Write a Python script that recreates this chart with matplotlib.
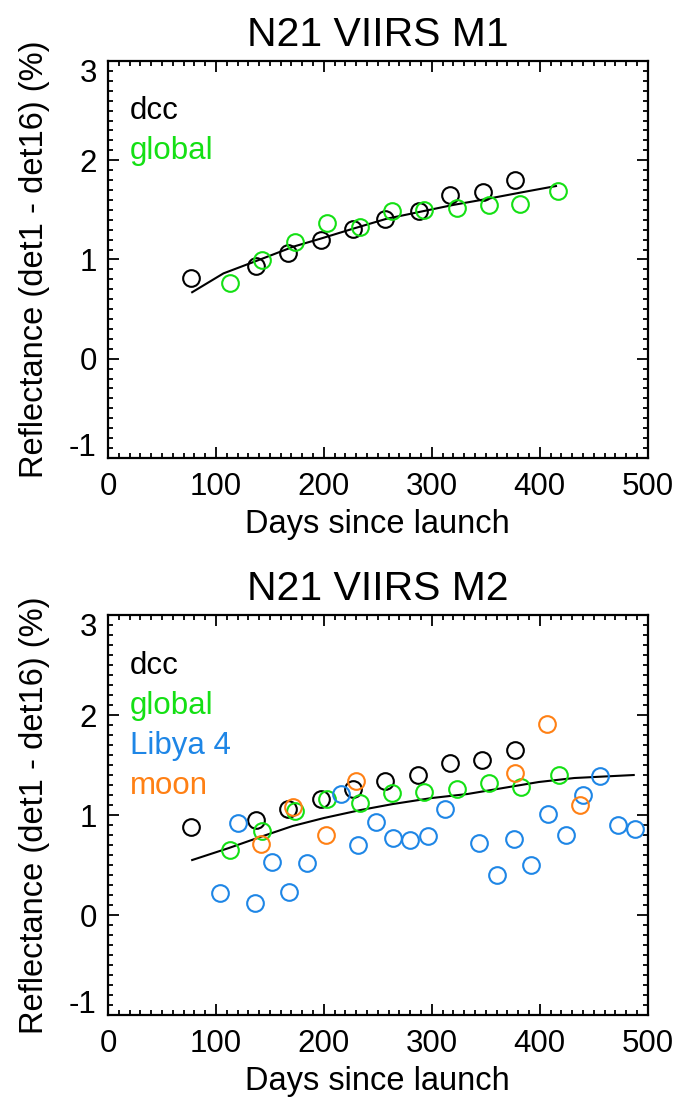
import matplotlib
matplotlib.use("Agg")
import matplotlib.pyplot as plt
from matplotlib.ticker import MultipleLocator
from matplotlib.transforms import ScaledTranslation

plt.rcParams["font.family"] = ["Liberation Sans", "DejaVu Sans"]

# ---- M1 ----
m1_dcc_days = [77, 137, 167, 197, 227, 257, 288, 317, 347, 377]
m1_dcc_vals = [0.81, 0.93, 1.07, 1.20, 1.31, 1.41, 1.49, 1.65, 1.68, 1.80]
m1_glb_days = [113, 143, 173, 203, 233, 263, 293, 323, 353, 382, 417]
m1_glb_vals = [0.76, 0.99, 1.18, 1.37, 1.33, 1.49, 1.50, 1.52, 1.55, 1.56, 1.69]
m1_fit_days = [78, 107, 141, 172, 197, 227, 258, 289, 320, 351, 385, 415]
m1_fit_vals = [0.67, 0.86, 1.00, 1.13, 1.21, 1.31, 1.41, 1.48, 1.55, 1.61, 1.68, 1.74]

# ---- M2 ----
m2_dcc_days = [77, 137, 167, 197, 227, 257, 287, 317, 346, 377]
m2_dcc_vals = [0.88, 0.95, 1.06, 1.16, 1.26, 1.34, 1.40, 1.52, 1.55, 1.65]
m2_glb_days = [113, 143, 173, 203, 233, 263, 293, 323, 353, 383, 418]
m2_glb_vals = [0.65, 0.84, 1.04, 1.16, 1.12, 1.22, 1.23, 1.26, 1.32, 1.28, 1.40]
m2_lib_days = [104, 120, 136, 152, 168, 184, 216, 232, 248, 264, 280, 296,
               312, 344, 360, 376, 392, 408, 424, 440, 456, 472, 488]
m2_lib_vals = [0.22, 0.92, 0.12, 0.53, 0.23, 0.52, 1.21, 0.70, 0.93, 0.77,
               0.75, 0.79, 1.06, 0.72, 0.40, 0.76, 0.50, 1.01, 0.80, 1.20,
               1.39, 0.90, 0.86]
m2_moon_days = [142, 171, 202, 230, 377, 407, 437]
m2_moon_vals = [0.71, 1.08, 0.80, 1.34, 1.42, 1.91, 1.10]
m2_fit_days = [78, 112, 141, 171, 200, 234, 264, 300, 333, 366, 399, 432, 487]
m2_fit_vals = [0.55, 0.67, 0.78, 0.89, 0.97, 1.05, 1.11, 1.17, 1.21, 1.27,
               1.33, 1.37, 1.40]

GREEN = "#14e014"
BLUE = "#1e86e6"
ORANGE = "#ff8014"

fig = plt.figure(figsize=(6.79, 10.99), dpi=100)
ax1 = fig.add_axes([0.159, 0.5833, 0.795, 0.3612])
ax2 = fig.add_axes([0.159, 0.0764, 0.795, 0.364])


def circles(ax, x, y, color):
    ax.plot(x, y, linestyle="none", marker="o", ms=12, mfc="none",
            mec=color, mew=1.5, clip_on=False)


def style(ax, title, legend):
    ax.set_xlim(0, 500)
    ax.set_ylim(-1, 3)
    ax.set_xticks([0, 100, 200, 300, 400, 500])
    ax.set_yticks([-1, 0, 1, 2, 3])
    ax.set_yticklabels(["-1", "0", "1", "2", "3"])
    ax.xaxis.set_minor_locator(MultipleLocator(10))
    ax.yaxis.set_minor_locator(MultipleLocator(0.1))
    ax.tick_params(which="both", direction="in", top=True, right=True,
                   width=1.3, labelsize=22.5)
    ax.tick_params(which="major", length=8)
    ax.tick_params(which="minor", length=3.5)
    ax.tick_params(axis="x", pad=10)
    ax.tick_params(axis="y", pad=8)
    for s in ax.spines.values():
        s.set_linewidth(1.6)
    ax.set_xlabel("Days since launch", fontsize=23.5)
    ax.set_ylabel("Reflectance (det1 - det16) (%)", fontsize=23.5)
    ax.xaxis.set_label_coords(0.5, -0.128)
    ax.yaxis.set_label_coords(-0.107, 0.5)
    ax.set_title(title, fontsize=29.5, pad=11)
    # end labels sit inside the frame, as in the original
    labs = ax.get_yticklabels()
    labs[0].set_transform(labs[0].get_transform()
                          + ScaledTranslation(0, 10 / 72, fig.dpi_scale_trans))
    labs[-1].set_transform(labs[-1].get_transform()
                           + ScaledTranslation(0, -7 / 72, fig.dpi_scale_trans))
    for i, (txt, col) in enumerate(legend):
        ax.text(0.04, 0.853 - i * 0.1, txt, color=col, fontsize=22.5,
                transform=ax.transAxes, va="baseline", ha="left")


ax1.plot(m1_fit_days, m1_fit_vals, color="black", lw=1.5)
circles(ax1, m1_dcc_days, m1_dcc_vals, "black")
circles(ax1, m1_glb_days, m1_glb_vals, GREEN)
style(ax1, "N21 VIIRS M1", [("dcc", "black"), ("global", GREEN)])

ax2.plot(m2_fit_days, m2_fit_vals, color="black", lw=1.5)
circles(ax2, m2_dcc_days, m2_dcc_vals, "black")
circles(ax2, m2_glb_days, m2_glb_vals, GREEN)
circles(ax2, m2_lib_days, m2_lib_vals, BLUE)
circles(ax2, m2_moon_days, m2_moon_vals, ORANGE)
style(ax2, "N21 VIIRS M2", [("dcc", "black"), ("global", GREEN),
                            ("Libya 4", BLUE), ("moon", ORANGE)])

fig.savefig("out.png", dpi=100)
